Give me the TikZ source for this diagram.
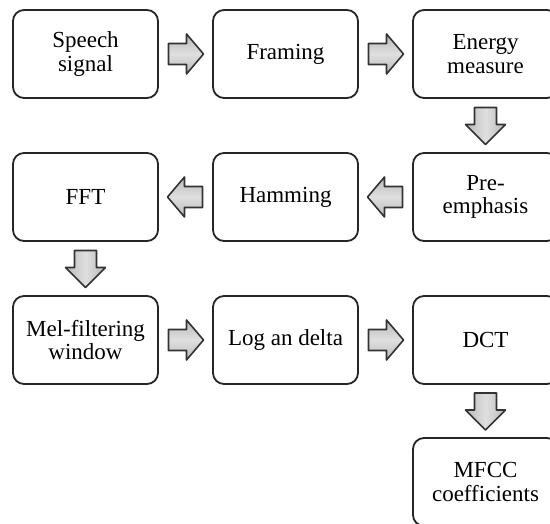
\documentclass[tikz,border=0pt]{standalone}
\usepackage{fontspec}
\setmainfont{Liberation Serif}
\usetikzlibrary{calc}

\tikzset{
  flowbox/.style={draw=black!85, line width=1.8pt, rounded corners=11pt, fill=white,
    minimum width=145pt, minimum height=88pt, align=center, inner sep=2pt,
    font=\fontsize{23}{23.5}\selectfont},
  arrowline/.style={draw=black!80, line width=1.6pt, line join=round},
  harrow/.style={arrowline, top color=gray!55, bottom color=gray!55, middle color=gray!25},
  varrow/.style={arrowline, left color=gray!55, right color=gray!55, middle color=gray!25},
  pics/arrowright/.style={code={
    \path[harrow] (-17,-10.5) -- (1,-10.5) -- (1,-20) -- (18,0) -- (1,20) -- (1,10.5) -- (-17,10.5) -- cycle;}},
  pics/arrowleft/.style={code={
    \path[harrow] (17,-10.5) -- (-1,-10.5) -- (-1,-20) -- (-18,0) -- (-1,20) -- (-1,10.5) -- (17,10.5) -- cycle;}},
  pics/arrowdown/.style={code={
    \path[varrow] (-11,-18) -- (-11,-1) -- (-20,-1) -- (0,19) -- (20,-1) -- (11,-1) -- (11,-18) -- cycle;}},
}

\begin{document}
\begin{tikzpicture}[x=1pt, y=-1pt]
  \useasboundingbox (0,0) rectangle (550,524);
  \clip (0,0) rectangle (550,524);
  \fill[white] (0,0) rectangle (550,524);

  % row 1
  \node[flowbox] (speech) at (85.5,54)  {Speech\\signal};
  \node[flowbox] (framing) at (285.5,54) {Framing};
  \node[flowbox] (energy) at (485.5,54) {Energy\\measure};
  % row 2
  \node[flowbox] (fft) at (85.5,197)  {FFT};
  \node[flowbox] (hamming) at (285.5,197) {Hamming};
  \node[flowbox] (preemph) at (485.5,197) {Pre-\\emphasis};
  % row 3
  \node[flowbox] (mel) at (85.5,340)  {Mel-filtering\\window};
  \node[flowbox] (logdelta) at (285.5,340) {Log an delta};
  \node[flowbox] (dct) at (485.5,340) {DCT};
  % row 4
  \node[flowbox] (mfcc) at (485.5,482) {MFCC\\coefficients};

  % block arrows between the stages
  \pic at ($(speech.east)!0.5!(framing.west)$) {arrowright};
  \pic at ($(framing.east)!0.5!(energy.west)$) {arrowright};
  \pic at ($(energy.south)!0.5!(preemph.north)$) {arrowdown};
  \pic at ($(preemph.west)!0.5!(hamming.east)$) {arrowleft};
  \pic at ($(hamming.west)!0.5!(fft.east)$) {arrowleft};
  \pic at ($(fft.south)!0.5!(mel.north)$) {arrowdown};
  \pic at ($(mel.east)!0.5!(logdelta.west)$) {arrowright};
  \pic at ($(logdelta.east)!0.5!(dct.west)$) {arrowright};
  \pic at ($(dct.south)!0.5!(mfcc.north)$) {arrowdown};
\end{tikzpicture}
\end{document}
